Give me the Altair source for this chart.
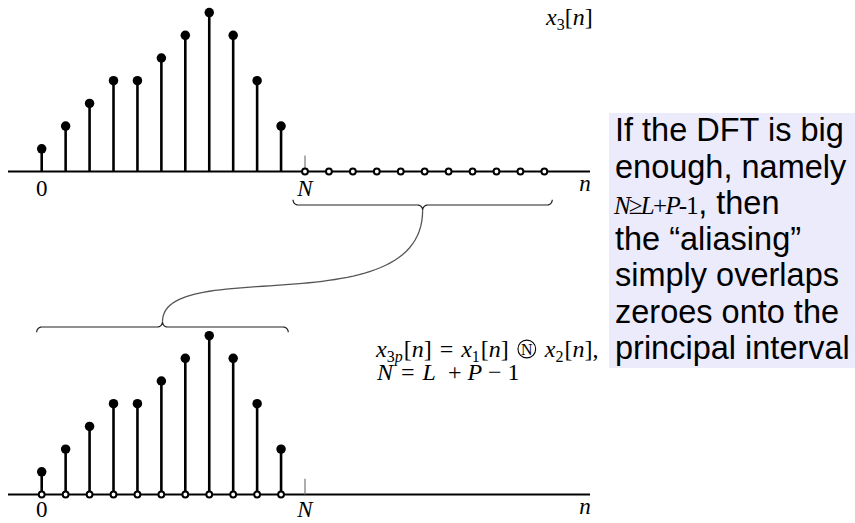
import altair as alt
import numpy as np
import pandas as pd

# ---------------- samples ----------------
N = 11
seq_n = list(range(N))                         # n = 0 .. N-1
seq_vals = [1, 2, 3, 4, 4, 5, 6, 7, 6, 4, 2]   # x3[n] on 0 .. N-1
tail_n = list(range(N, 2 * N))                 # n = N .. 2N-1, where x3[n] = 0

box_lines = ["If the DFT is big", "enough, namely", None,
             "the \u201caliasing\u201d", "simply overlaps",
             "zeroes onto the", "principal interval"]

# ---------------- layout ----------------
W, H = 855, 523
X0_PX, PX_PER_N = 41.7, 23.936     # pixel of n = 0 and pixels per sample
Y0_PX, PX_PER_V = 171.5, 22.7      # pixel of the upper baseline and pixels per unit
LOWER = -14.23                     # baseline of the lower panel (value units)
baselines = [0.0, LOWER]

SERIF, SANS = "Liberation Serif", "Liberation Sans"


def to_n(px):
    return (px - X0_PX) / PX_PER_N


def to_v(py):
    return (Y0_PX - py) / PX_PER_V


XS = alt.Scale(domain=[to_n(0), to_n(W)], nice=False, zero=False)
YS = alt.Scale(domain=[to_v(H), to_v(0)], nice=False, zero=False)


def X(f):
    return alt.X(f, type="quantitative", scale=XS, axis=None)


def Y(f):
    return alt.Y(f, type="quantitative", scale=YS, axis=None)


# ---------------- stems, dots, zero samples ----------------
stems = pd.DataFrame([{"n": n, "base": b, "top": b + v}
                      for b in baselines for n, v in zip(seq_n, seq_vals)])
zeros = pd.DataFrame({"n": tail_n + seq_n,
                      "v": [0.0] * len(tail_n) + [LOWER] * len(seq_n)})
axes_df = pd.DataFrame({"x0": [to_n(8)] * 2, "x1": [to_n(590)] * 2, "v": baselines})
ticks_df = pd.DataFrame({"n": [N, N], "v0": baselines, "v1": [b + 0.7 for b in baselines]})

axis_layer = alt.Chart(axes_df).mark_rule(color="black", strokeWidth=2).encode(
    x=X("x0"), x2="x1", y=Y("v"))
tick_layer = alt.Chart(ticks_df).mark_rule(color="#777777", strokeWidth=1.2).encode(
    x=X("n"), y=Y("v0"), y2="v1")
stem_layer = alt.Chart(stems).mark_rule(color="black", strokeWidth=2.6).encode(
    x=X("n"), y=Y("base"), y2="top")
dot_layer = alt.Chart(stems).mark_circle(color="black", size=90, opacity=1).encode(
    x=X("n"), y=Y("top"))
zero_layer = alt.Chart(zeros).mark_circle(
    fill="white", stroke="black", strokeWidth=2, size=34, opacity=1).encode(
    x=X("n"), y=Y("v"))


# ---------------- braces and connector ----------------
def brace(xl, xr, level, d, rx=0.21, ry=0.23, k=10):
    """Curly brace from xl to xr; d = -1 puts the tip below, +1 above."""
    xc = (xl + xr) / 2
    phi = np.linspace(0, np.pi / 2, k)
    xs = np.concatenate([xl + rx - rx * np.cos(phi),
                         xc - rx + rx * np.sin(phi),
                         xc + rx - rx * np.cos(phi),
                         xr - rx + rx * np.sin(phi)])
    ys = np.concatenate([level - d * ry + d * ry * np.sin(phi),
                         level + d * ry - d * ry * np.cos(phi),
                         level + d * ry - d * ry * np.sin(phi),
                         level - d * ry + d * ry * np.cos(phi)])
    return xs, ys, (xc, level + d * ry)


bx1, by1, tip1 = brace(N - 0.5, 2 * N - 1 + 0.33, to_v(205), -1)
bx2, by2, tip2 = brace(-0.21, N - 1 + 0.3, LOWER + 7.38, +1)
brace_df = pd.DataFrame({
    "n": np.concatenate([bx1, bx2]), "v": np.concatenate([by1, by2]),
    "part": ["a"] * len(bx1) + ["b"] * len(bx2),
    "ord": list(range(len(bx1))) + list(range(len(bx2)))})

(x0, y0), (x3, y3) = tip1, tip2
dy = y3 - y0
p = np.array([[x0, y0], [x0, y0 + 1.035 * dy], [x3, y0 + 0.4 * dy], [x3, y3]])
t = np.linspace(0, 1, 60)[:, None]
curve = ((1 - t) ** 3) * p[0] + 3 * ((1 - t) ** 2) * t * p[1] + 3 * (1 - t) * t ** 2 * p[2] + t ** 3 * p[3]
conn_df = pd.DataFrame({"n": curve[:, 0], "v": curve[:, 1], "ord": range(len(curve))})

brace_layer = alt.Chart(brace_df).mark_line(color="#222222", strokeWidth=1.2).encode(
    x=X("n"), y=Y("v"), detail="part:N", order="ord:Q")
conn_layer = alt.Chart(conn_df).mark_line(color="#555555", strokeWidth=1.3).encode(
    x=X("n"), y=Y("v"), order="ord:Q")

# ---------------- text ----------------
texts, circles = [], []


def put(txt, n, v, font=SERIF, style="normal", size=23, align="left"):
    texts.append(dict(txt=txt, n=n, v=v, font=font, style=style, size=size, align=align))


def put_px(txt, px, py, **kw):
    put(txt, to_n(px), to_v(py), **kw)


SERIF_W = {"x": .444, "n": .5, "p": .5, "N": .667, "L": .556, "P": .611,
           "[": .333, "]": .333, "=": .564, "+": .564, "\u2212": .564,
           ",": .25, " ": .25, "\u2265": .549, "-": .333}
SANS_W = {",": .278, " ": .278, "-": .333}


def run(items, px, py, track=1.0):
    for item in items:
        if item[0] == "gap":
            px += item[1]
            continue
        if item[0] == "circ":
            dia = item[1]
            circles.append(dict(n=to_n(px + dia / 2), v=to_v(py - 8)))
            put_px("N", px + dia / 2, py - 2.5, size=16, align="center")
            px += dia
            continue
        txt, font, style, size, drop = item
        put_px(txt, px, py + drop, font=font, style=style, size=size)
        table = SERIF_W if font == SERIF else SANS_W
        px += sum(table.get(c, .5) for c in txt) * size * track
    return px


F, S, D = 24, 16, 5


def I(t, s=F, d=0):
    return (t, SERIF, "italic", s, d)


def R(t, s=F, d=0):
    return (t, SERIF, "normal", s, d)


bracket_n = [R("["), I("n"), R("]")]

# axis labels for both panels
for b, lab_drop, n_drop in [(0.0, 1.1, 0.85), (LOWER, 1.0, 0.85)]:
    put("0", 0, b - lab_drop, align="center")
    put("N", N, b - lab_drop, style="italic", align="center")
    put("n", to_n(585), b - n_drop, style="italic", align="center")

# x3[n] label
run([I("x"), R("3", S, D), *bracket_n], 546, 25)

# circular-convolution relation
run([I("x"), R("3", S, D), I("p", S, D), ("gap", 1), *bracket_n, ("gap", 8), R("="), ("gap", 8),
     I("x"), R("1", S, D), ("gap", 1), *bracket_n, ("gap", 8), ("circ", 20), ("gap", 8),
     I("x"), R("2", S, D), ("gap", 1), *bracket_n, R(",")], 376, 357)
run([I("N"), ("gap", 8), R("="), ("gap", 8), I("L"), ("gap", 12), R("+"), ("gap", 6),
     I("P"), ("gap", 6), R("\u2212"), ("gap", 6), R("1")], 377, 380)

# note box text
box_base = [141, 177.5, 214, 250, 286, 322.5, 359]
for line, yb in zip(box_lines, box_base):
    if line is not None:
        put_px(line, 615, yb, font=SANS, size=32.5)
end = run([I("N", 25), R("\u2265", 25), I("L", 25), R("+", 25), I("P", 25), R("-", 25),
           R("1", 25)], 614, box_base[2], track=0.88)
put_px(", then", end + 1, box_base[2], font=SANS, size=32.5)

text_df = pd.DataFrame(texts)
text_layers = []
for (font, style, size, align), g in text_df.groupby(["font", "style", "size", "align"]):
    text_layers.append(
        alt.Chart(g.reset_index(drop=True)).mark_text(
            font=font, fontStyle=style, fontSize=float(size), align=align,
            baseline="alphabetic", color="black").encode(
            x=X("n"), y=Y("v"), text="txt:N"))

circ_layer = alt.Chart(pd.DataFrame(circles)).mark_point(
    shape="circle", size=314, stroke="black", strokeWidth=1.1, filled=False, opacity=1).encode(
    x=X("n"), y=Y("v"))

box_df = pd.DataFrame({"x0": [to_n(609)], "x1": [to_n(W)], "y0": [to_v(113)], "y1": [to_v(368)]})
box_layer = alt.Chart(box_df).mark_rect(color="#EBEBFB").encode(
    x=X("x0"), x2="x1", y=Y("y0"), y2="y1")

chart = alt.layer(
    box_layer, axis_layer, tick_layer, stem_layer, dot_layer, zero_layer,
    brace_layer, conn_layer, circ_layer, *text_layers
).properties(
    width=W, height=H, padding=0,
    autosize=alt.AutoSizeParams(type="none"), background="white"
).configure_view(stroke=None)

chart.save("out.html", embed_options={"renderer": "svg", "actions": False})
